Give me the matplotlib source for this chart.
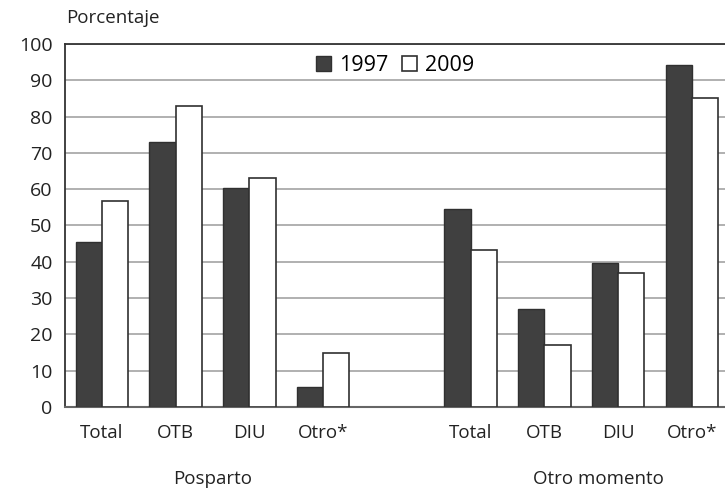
import matplotlib.pyplot as plt
import numpy as np

categories = ['Total', 'OTB', 'DIU', 'Otro*', 'Total', 'OTB', 'DIU', 'Otro*']
positions = [0, 1, 2, 3, 5, 6, 7, 8]
values_1997 = [45.4, 73.0, 60.2, 5.5, 54.5, 26.9, 39.7, 94.2]
values_2009 = [56.8, 82.8, 63.2, 15.0, 43.2, 17.2, 36.8, 85.0]
groups = ['Posparto', 'Otro momento']
group_pos = [1.5, 6.73]

plt.rcParams['font.family'] = ['Open Sans', 'DejaVu Sans']

fig = plt.figure(figsize=(7.25, 4.9), dpi=100)
ax = fig.add_axes([0.0897, 0.1694, 0.9103, 0.7408])

x = np.array(positions)
w = 0.355
ax.bar(x - w / 2, values_1997, w, color='#404040', edgecolor='#303030',
       linewidth=1.0, label='1997', zorder=3)
ax.bar(x + w / 2, values_2009, w, color='white', edgecolor='#303030',
       linewidth=1.2, label='2009', zorder=3)

ax.set_ylim(0, 100)
ax.set_xlim(-0.5, 8.45)
ax.set_yticks(range(0, 101, 10))
ax.yaxis.grid(True, color='#aaaaaa', linewidth=1.3, zorder=0)
ax.tick_params(axis='both', length=0, colors='#222222')
ax.tick_params(axis='y', pad=9, labelsize=14)
ax.tick_params(axis='x', pad=12, labelsize=13.5)
ax.set_xticks(positions)
ax.set_xticklabels(categories)

for s in ['top', 'left']:
    ax.spines[s].set_color('#333333')
    ax.spines[s].set_linewidth(1.3)
ax.spines['bottom'].set_color('#666666')
ax.spines['bottom'].set_linewidth(1.5)
ax.spines['right'].set_visible(False)

for g, gp in zip(groups, group_pos):
    ax.text(gp, -19.7, g, ha='center', va='center', fontsize=13.5,
            color='#222222')

fig.text(0.091, 0.963, 'Porcentaje', ha='left', va='center', fontsize=13.5,
         color='#222222')

ax.legend(loc='center', bbox_to_anchor=(0.5, 0.94), ncol=2, frameon=False,
          handlelength=0.7, handleheight=0.7, handletextpad=0.4,
          columnspacing=0.6, fontsize=15.5)

fig.savefig('out.png', dpi=100)
